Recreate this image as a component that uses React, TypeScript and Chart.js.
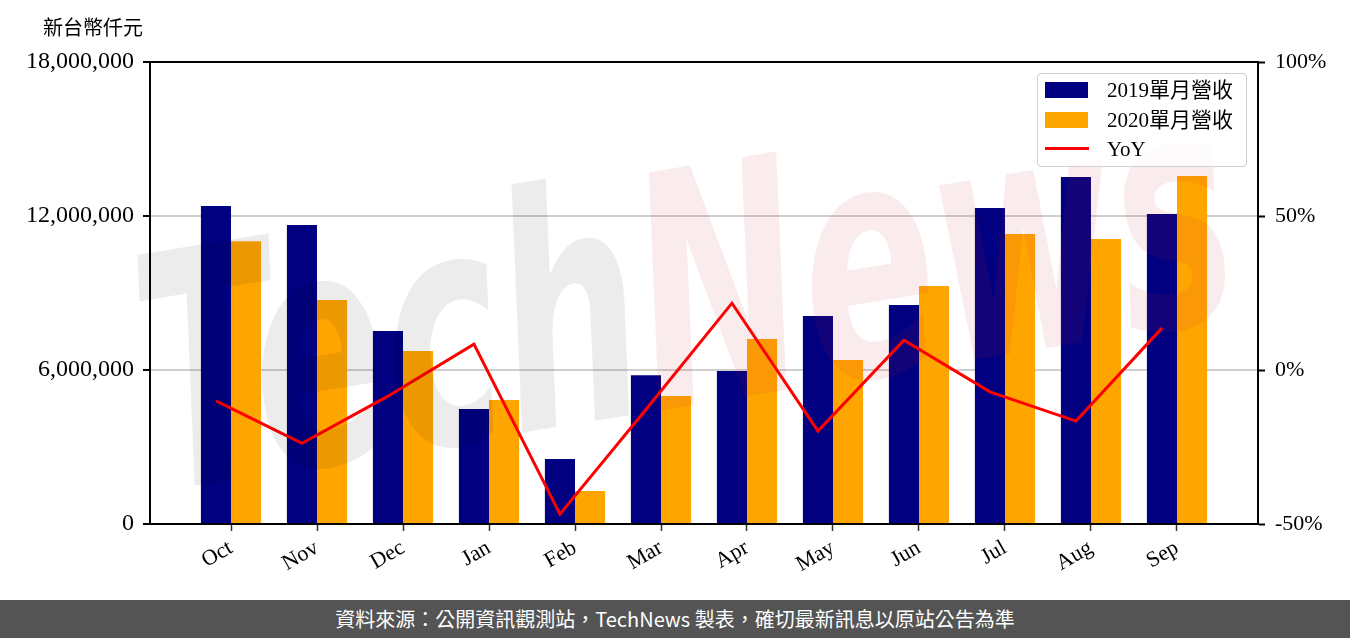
import React, { useEffect, useRef } from "react";
import { Chart, registerables } from "chart.js";

Chart.register(...registerables);

const months = ["Oct", "Nov", "Dec", "Jan", "Feb", "Mar", "Apr", "May", "Jun", "Jul", "Aug", "Sep"];
const revenue2019 = [12390000, 11650000, 7520000, 4480000, 2530000, 5800000, 5960000, 8100000, 8530000, 12310000, 13520000, 12080000];
const revenue2020 = [11020000, 8730000, 6740000, 4830000, 1290000, 4990000, 7210000, 6390000, 9270000, 11300000, 11100000, 13560000];
const yoyPct = [-10.0, -23.8, -8.5, 8.4, -46.8, -12.8, 21.7, -19.8, 9.7, -7.1, -16.6, 13.6];
const leftTicks = [0, 6000000, 12000000, 18000000];
const rightTicks = [-50, 0, 50, 100];

const label2019 = "2019單月營收";
const label2020 = "2020單月營收";
const labelYoY = "YoY";
const unitLabel = "新台幣仟元";
const footerText = "資料來源：公開資訊觀測站，TechNews 製表，確切最新訊息以原站公告為準";

const serif = '"Liberation Serif", "DejaVu Serif", serif';
const legendFont = '"Liberation Serif", "Noto Sans CJK TC", serif';
const cjk = '"Noto Sans CJK TC", "Noto Sans", sans-serif';

const framePlugin = {
  id: "frame",
  afterDraw(chart: any) {
    const { ctx, chartArea } = chart;
    ctx.save();
    ctx.strokeStyle = "#000";
    ctx.lineWidth = 2;
    ctx.strokeRect(chartArea.left, chartArea.top, chartArea.right - chartArea.left, chartArea.bottom - chartArea.top);
    ctx.restore();
  },
};

const watermarkPlugin = {
  id: "watermark",
  afterDatasetsDraw(chart: any) {
    const ctx = chart.ctx;
    ctx.save();
    ctx.translate(690, 320);
    ctx.rotate(-0.16);
    ctx.font = 'italic bold 250px "DejaVu Sans"';
    const w1 = ctx.measureText("Tech").width;
    const w2 = ctx.measureText("News").width;
    const total = w1 + w2;
    const s = 1100 / total;
    ctx.scale(s, 1.3);
    ctx.textBaseline = "middle";
    ctx.fillStyle = "rgba(0,0,0,0.075)";
    ctx.fillText("Tech", -total / 2, 0);
    ctx.fillStyle = "rgba(200,30,50,0.09)";
    ctx.fillText("News", -total / 2 + w1, 0);
    ctx.restore();
  },
};

export default function App() {
  const ref = useRef<HTMLCanvasElement | null>(null);

  useEffect(() => {
    if (!ref.current) return;
    const chart = new Chart(ref.current, {
      type: "bar",
      data: {
        datasets: [
          {
            type: "line",
            label: labelYoY,
            data: yoyPct.map((v, i) => ({ x: i - 0.175, y: v })),
            borderColor: "#ff0000",
            backgroundColor: "#ff0000",
            borderWidth: 3,
            pointRadius: 0,
            tension: 0,
            yAxisID: "y1",
            xAxisID: "x",
            order: 0,
          } as any,
          {
            type: "bar",
            label: label2019,
            data: revenue2019.map((v, i) => ({ x: i, y: v })),
            backgroundColor: "#000080",
            categoryPercentage: 0.7,
            barPercentage: 1.0,
            yAxisID: "y",
            xAxisID: "x",
            order: 1,
          } as any,
          {
            type: "bar",
            label: label2020,
            data: revenue2020.map((v, i) => ({ x: i, y: v })),
            backgroundColor: "#ffa500",
            categoryPercentage: 0.7,
            barPercentage: 1.0,
            yAxisID: "y",
            xAxisID: "x",
            order: 1,
          } as any,
        ],
      },
      options: {
        responsive: false,
        animation: false,
        layout: { padding: { top: 62, left: 0, right: 0, bottom: 0 } },
        plugins: { legend: { display: false }, tooltip: { enabled: false }, title: { display: false } },
        scales: {
          x: {
            type: "linear",
            min: -0.942,
            max: 11.942,
            offset: false,
            afterBuildTicks: (s: any) => {
              s.ticks = months.map((_, i) => ({ value: i }));
            },
            ticks: {
              callback: (v: any) => months[v as number] ?? "",
              autoSkip: false,
              maxRotation: 30,
              minRotation: 30,
              color: "#000",
              padding: 4,
              font: { family: serif, size: 22 },
            },
            grid: { offset: false, drawOnChartArea: false, tickLength: 7, tickColor: "#333", tickWidth: 1.5 },
            border: { display: true, color: "#000", width: 2 },
            afterFit: (s: any) => {
              s.height = 76;
            },
          } as any,
          y: {
            type: "linear",
            position: "left",
            min: 0,
            max: 18000000,
            afterBuildTicks: (s: any) => {
              s.ticks = leftTicks.map((v) => ({ value: v }));
            },
            ticks: {
              callback: (v: any) => Number(v).toLocaleString("en-US"),
              color: "#000",
              padding: 9,
              font: { family: serif, size: 24 },
            },
            grid: {
              color: (c: any) =>
                c.tick && (c.tick.value === 0 || c.tick.value === 18000000) ? "rgba(0,0,0,0)" : "#cfcfcf",
              lineWidth: 2,
              tickLength: 7,
              tickColor: "#000",
              tickWidth: 2,
            },
            border: { display: true, color: "#000", width: 2 },
            afterFit: (s: any) => {
              s.width = 150;
            },
          } as any,
          y1: {
            type: "linear",
            position: "right",
            min: -50,
            max: 100,
            afterBuildTicks: (s: any) => {
              s.ticks = rightTicks.map((v) => ({ value: v }));
            },
            ticks: {
              callback: (v: any) => `${v}%`,
              color: "#000",
              padding: 10,
              font: { family: serif, size: 22 },
            },
            grid: { drawOnChartArea: false, tickLength: 7, tickColor: "#000", tickWidth: 2 },
            border: { display: true, color: "#000", width: 2 },
            afterFit: (s: any) => {
              s.width = 92;
            },
          } as any,
        },
      },
      plugins: [watermarkPlugin, framePlugin],
    });
    return () => chart.destroy();
  }, []);

  const legendRow = (top: number, text: string, marker: React.ReactNode) => (
    <div style={{ position: "absolute", left: 0, top, width: "100%", height: 24 }}>
      {marker}
      <div
        style={{
          position: "absolute",
          left: 69,
          top: 0,
          lineHeight: "24px",
          fontSize: 21,
          fontFamily: legendFont,
          color: "#000",
          whiteSpace: "nowrap",
        }}
      >
        {text}
      </div>
    </div>
  );

  return (
    <div style={{ position: "fixed", left: 0, top: 0, width: 1350, height: 638, background: "#fff", overflow: "hidden" }}>
      <canvas ref={ref} width={1350} height={600} style={{ position: "absolute", left: 0, top: 0, width: 1350, height: 600 }} />
      <div
        style={{
          position: "absolute",
          left: 43,
          top: 17,
          fontSize: 20,
          lineHeight: "20px",
          fontFamily: cjk,
          color: "#000",
          whiteSpace: "nowrap",
        }}
      >
        {unitLabel}
      </div>
      <div
        style={{
          position: "absolute",
          left: 1037,
          top: 73,
          width: 210,
          height: 94,
          boxSizing: "border-box",
          border: "1.5px solid #d0d0d0",
          borderRadius: 4,
          background: "rgba(255,255,255,0.8)",
        }}
      >
        {legendRow(
          4,
          label2019,
          <div style={{ position: "absolute", left: 7, top: 3.5, width: 43, height: 16, background: "#000080" }} />
        )}
        {legendRow(
          34,
          label2020,
          <div style={{ position: "absolute", left: 7, top: 3.5, width: 43, height: 16, background: "#ffa500" }} />
        )}
        {legendRow(
          63,
          labelYoY,
          <div style={{ position: "absolute", left: 7, top: 10, width: 44, height: 3, background: "#ff0000" }} />
        )}
      </div>
      <div
        style={{
          position: "absolute",
          left: 0,
          top: 600,
          width: 1350,
          height: 38,
          background: "#545454",
          color: "#fff",
          fontSize: 20,
          lineHeight: "38px",
          fontFamily: cjk,
          textAlign: "center",
          whiteSpace: "nowrap",
        }}
      >
        {footerText}
      </div>
    </div>
  );
}
